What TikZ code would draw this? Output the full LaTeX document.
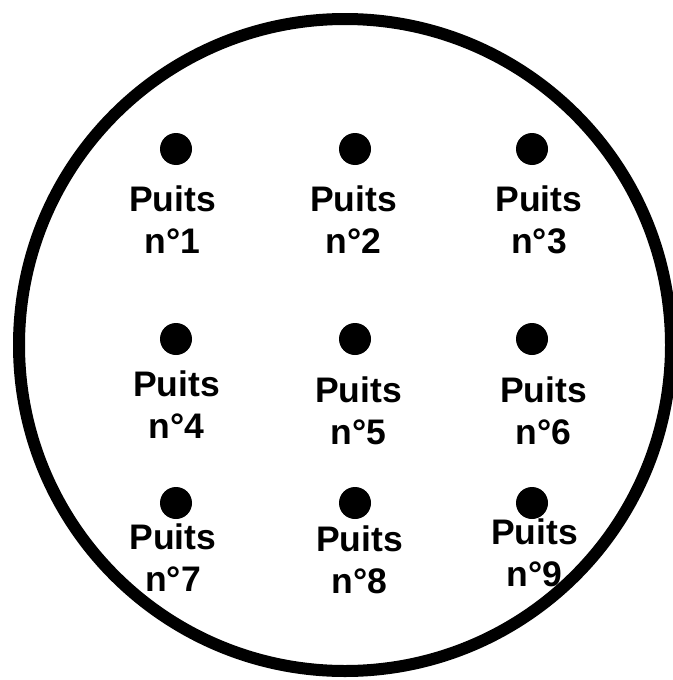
\documentclass[tikz,border=0pt]{standalone}
\usepackage{fontspec}
\setmainfont{Liberation Sans}
\begin{document}
\begin{tikzpicture}[x=1pt, y=-1pt,
		puits/.style={circle, fill=black, inner sep=0pt, minimum size=32pt},
		nom/.style={anchor=north, inner sep=0pt, align=center, font=\fontsize{35.5}{42}\selectfont\bfseries}]
		\useasboundingbox (0,0) rectangle (672,680);
		\draw[line width=12pt] (345,345) circle (326pt);
		
		\node[puits] (p1) at (176,149) {};
		\node[puits] (p2) at (355,149) {};
		\node[puits] (p3) at (532,149) {};
		\node[puits] (p4) at (176,339) {};
		\node[puits] (p5) at (355,339) {};
		\node[puits] (p6) at (532,339) {};
		\node[puits] (p7) at (176,503) {};
		\node[puits] (p8) at (355,503) {};
		\node[puits] (p9) at (532,503) {};
		
		\node[nom] (n1) at (172.5,186) {Puits\\n°1};
		\node[nom] (n2) at (353.5,186) {Puits\\n°2};
		\node[nom] (n3) at (539,186) {Puits\\n°3};
		\node[nom] (n4) at (176.5,371) {Puits\\n°4};
		\node[nom] (n5) at (358.5,377) {Puits\\n°5};
		\node[nom] (n6) at (543.5,377) {Puits\\n°6};
		\node[nom] (n7) at (173,524) {Puits\\n°7};
		\node[nom] (n8) at (359.5,526) {Puits\\n°8};
		\node[nom] (n9) at (534.5,519) {Puits\\n°9};
\end{tikzpicture}
\end{document}
